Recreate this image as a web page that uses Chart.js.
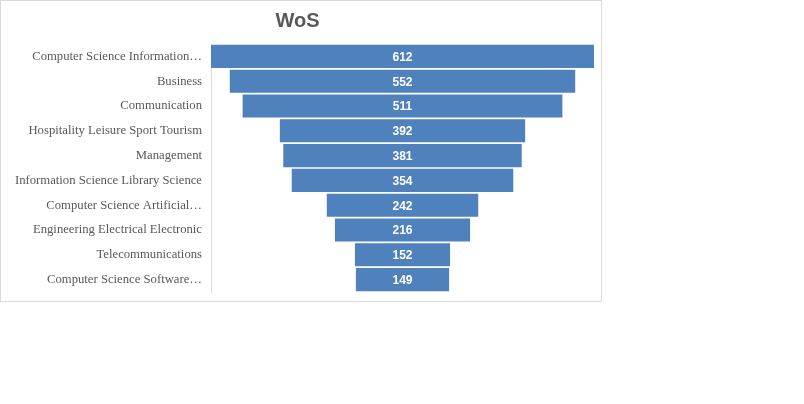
<!DOCTYPE html>
<html>
<head>
<meta charset="utf-8">
<script src="https://cdn.jsdelivr.net/npm/chart.js@4/dist/chart.umd.min.js"></script>
<style>
  body { margin: 0; background: #fff; }
  #box { position: absolute; left: 0; top: 0; width: 600px; height: 300px; border: 1px solid #d9d9d9; }
  canvas { display: block; }
</style>
</head>
<body>
<div id="box"><canvas id="chart" width="600" height="300"></canvas></div>
<script>
const categories = [
  "Computer Science Information…",
  "Business",
  "Communication",
  "Hospitality Leisure Sport Tourism",
  "Management",
  "Information Science Library Science",
  "Computer Science Artificial…",
  "Engineering Electrical Electronic",
  "Telecommunications",
  "Computer Science Software…"
];
const counts = [612, 552, 511, 392, 381, 354, 242, 216, 152, 149];

// funnel: each bar centred on zero
const spans = counts.map(v => [-v / 2, v / 2]);
const half = Math.max(...counts) / 2;

const centreLabels = {
  id: "centreLabels",
  afterDatasetsDraw(chart) {
    const ctx = chart.ctx;
    const meta = chart.getDatasetMeta(0);
    ctx.save();
    ctx.fillStyle = "#ffffff";
    ctx.font = "bold 12px 'Liberation Sans', sans-serif";
    ctx.textAlign = "center";
    ctx.textBaseline = "middle";
    meta.data.forEach((bar, i) => {
      ctx.fillText(String(counts[i]), (bar.x + bar.base) / 2, bar.y + 1);
    });
    ctx.restore();
  }
};

new Chart(document.getElementById("chart").getContext("2d"), {
  type: "bar",
  data: {
    labels: categories,
    datasets: [{
      data: spans,
      backgroundColor: "#4f81bd",
      borderWidth: 0,
      barPercentage: 0.93,
      categoryPercentage: 1
    }]
  },
  options: {
    indexAxis: "y",
    responsive: false,
    animation: false,
    layout: { padding: { top: 8, right: 7, bottom: 9, left: 0 } },
    plugins: {
      legend: { display: false },
      tooltip: { enabled: false },
      title: {
        display: true,
        text: "WoS",
        color: "#595959",
        font: { family: "'Liberation Sans', sans-serif", size: 20, weight: "bold" },
        padding: { top: 0, bottom: 11 }
      }
    },
    scales: {
      x: { display: false, min: -half, max: half },
      y: {
        grid: { display: false, drawTicks: false },
        border: { display: true, color: "#d9d9d9" },
        ticks: {
          color: "#595959",
          padding: 9,
          font: { family: "'Liberation Serif', serif", size: 12.7 }
        },
        afterFit(scale) {
          scale.width = 210;
          scale.paddingTop = 0;
          scale.paddingBottom = 0;
        }
      }
    }
  },
  plugins: [centreLabels]
});
</script>
</body>
</html>
